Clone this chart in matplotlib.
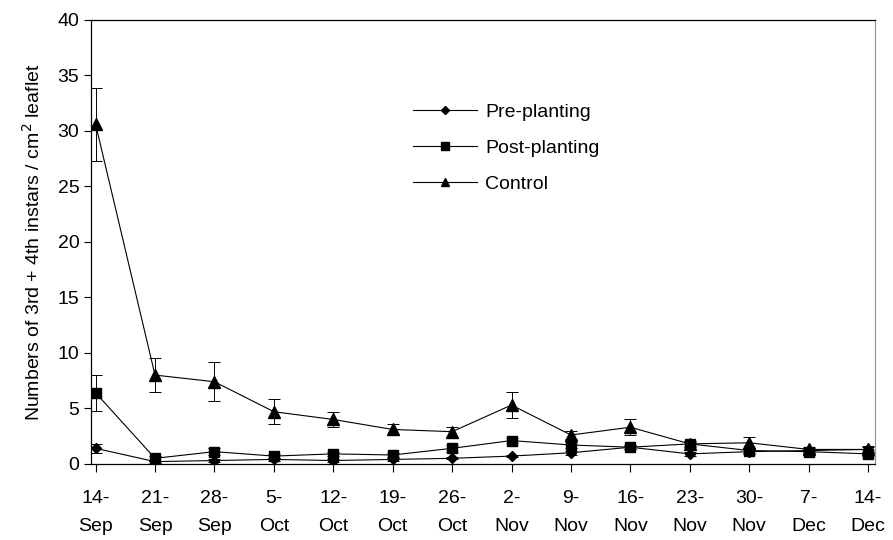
import matplotlib
matplotlib.use("Agg")
import matplotlib.pyplot as plt
from matplotlib.lines import Line2D
import numpy as np

plt.rcParams['font.family'] = ['Liberation Sans', 'DejaVu Sans']

dates = ["14-\nSep", "21-\nSep", "28-\nSep", "5-\nOct", "12-\nOct", "19-\nOct", "26-\nOct",
         "2-\nNov", "9-\nNov", "16-\nNov", "23-\nNov", "30-\nNov", "7-\nDec", "14-\nDec"]

pre_planting = [1.4, 0.2, 0.3, 0.4, 0.3, 0.4, 0.5, 0.7, 1.0, 1.5, 0.9, 1.1, 1.2, 1.3]
pre_err = [0.4, 0.1, 0.1, 0.1, 0.1, 0.1, 0.1, 0.1, 0.2, 0.2, 0.2, 0.2, 0.2, 0.2]

post_planting = [6.4, 0.5, 1.1, 0.7, 0.9, 0.8, 1.4, 2.1, 1.7, 1.5, 1.8, 1.2, 1.1, 0.9]
post_err = [1.65, 0.2, 0.3, 0.2, 0.2, 0.2, 0.3, 0.2, 0.3, 0.2, 0.3, 0.2, 0.2, 0.2]

control = [30.6, 8.0, 7.4, 4.7, 4.0, 3.1, 2.9, 5.3, 2.6, 3.3, 1.8, 1.9, 1.3, 1.3]
control_err = [3.3, 1.5, 1.75, 1.15, 0.7, 0.5, 0.45, 1.15, 0.4, 0.7, 0.2, 0.5, 0.2, 0.3]

x = np.arange(len(dates))

fig = plt.figure(figsize=(8.93, 5.4), dpi=100)
ax = fig.add_axes([0.102, 0.141, 0.878, 0.822])

series = [
    (pre_planting, pre_err, 'D', 5.5, 'Pre-planting'),
    (post_planting, post_err, 's', 7, 'Post-planting'),
    (control, control_err, '^', 8, 'Control'),
]
handles = []
for vals, err, mk, ms, name in series:
    ax.errorbar(x, vals, yerr=err, color='black', lw=0.8, marker=mk,
                markersize=ms, capsize=4.5, elinewidth=0.7, capthick=0.7)
    handles.append(Line2D([], [], color='black', lw=0.8, marker=mk,
                          markersize=ms * 0.8, label=name))

ax.set_xlim(-0.076, 13.12)
ax.set_ylim(0, 40)
ax.set_yticks(range(0, 41, 5))
ax.set_xticks(x)
ax.set_xticklabels(dates, fontsize=14, linespacing=1.8)
ax.tick_params(axis='y', labelsize=14, direction='out', length=5, width=0.8)
ax.tick_params(axis='x', direction='out', length=6, width=0.8, pad=13)

for side in ['left', 'bottom', 'top']:
    ax.spines[side].set_linewidth(0.9)
ax.spines['right'].set_color('#999999')
ax.spines['right'].set_linewidth(0.9)

ax.set_ylabel('Numbers of 3rd + 4th instars / cm$^2$ leaflet', fontsize=14, labelpad=10)

ax.legend(handles=handles, loc='upper left', bbox_to_anchor=(413 / 893, 1 - 103 / 540),
          bbox_transform=fig.transFigure, frameon=False, fontsize=14,
          handlelength=3.3, handletextpad=0.4, labelspacing=0.95,
          borderaxespad=0, borderpad=0)

fig.savefig('out.png', dpi=100)
